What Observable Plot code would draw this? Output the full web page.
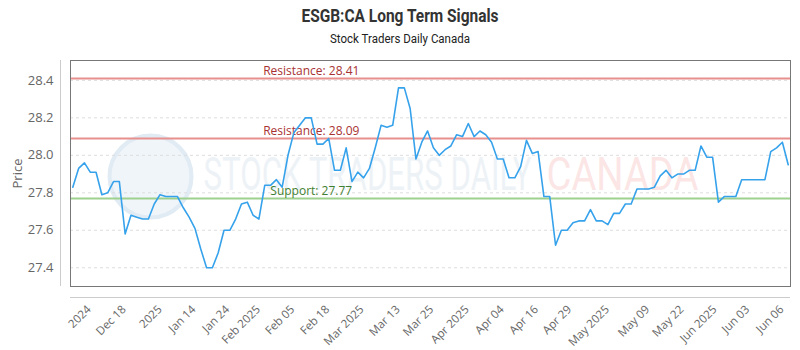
<!DOCTYPE html>
<html>
<head>
<meta charset="utf-8">
<script src="https://cdn.jsdelivr.net/npm/d3@7"></script>
<script src="https://cdn.jsdelivr.net/npm/@observablehq/plot@0.6"></script>
<style>
  html, body { margin: 0; padding: 0; background: #fff; }
  #wrap { position: relative; width: 800px; height: 350px; overflow: hidden; }
  #title { position: absolute; left: 0; width: 800px; top: 5px; text-align: center;
    font-family: Roboto, sans-serif; font-weight: bold; font-size: 18px; color: #333;
    transform: scaleX(0.86); transform-origin: 400px 0; }
  #subtitle { position: absolute; left: 0; width: 800px; top: 31px; text-align: center;
    font-family: Roboto, sans-serif; font-size: 12.5px; color: #222;
    transform: scaleX(0.92); transform-origin: 400px 0; }
</style>
</head>
<body>
<div id="wrap">
  <div id="title">ESGB:CA Long Term Signals</div>
  <div id="subtitle">Stock Traders Daily Canada</div>
  <div id="chart"></div>
</div>
<script>
const prices = [
  27.83, 27.93, 27.96, 27.91, 27.91, 27.79, 27.80, 27.86, 27.86, 27.58,
  27.68, 27.67, 27.66, 27.66, 27.74, 27.79, 27.78, 27.78, 27.78, 27.72,
  27.67, 27.61, 27.50, 27.40, 27.40, 27.48, 27.60, 27.60, 27.66, 27.74,
  27.75, 27.68, 27.66, 27.84, 27.84, 27.87, 27.83, 28.00, 28.12, 28.16,
  28.20, 28.20, 28.06, 28.06, 28.09, 27.92, 27.92, 28.04, 27.86, 27.91,
  27.88, 27.93, 28.04, 28.16, 28.15, 28.16, 28.36, 28.36, 28.25, 27.98,
  28.07, 28.13, 28.04, 28.00, 28.03, 28.05, 28.11, 28.10, 28.17, 28.10,
  28.13, 28.11, 28.07, 27.98, 27.98, 27.88, 27.88, 27.94, 28.08, 28.01,
  28.02, 27.78, 27.78, 27.52, 27.60, 27.60, 27.64, 27.65, 27.65, 27.71,
  27.65, 27.65, 27.63, 27.69, 27.69, 27.74, 27.74, 27.82, 27.82, 27.82,
  27.83, 27.89, 27.92, 27.88, 27.90, 27.90, 27.92, 27.92, 28.05, 27.99,
  27.99, 27.75, 27.78, 27.78, 27.78, 27.87, 27.87, 27.87, 27.87, 27.87,
  28.02, 28.04, 28.07, 27.95
];
// tick positions in point-index units (the axis spaces trading days evenly)
const tickIndex = [2.8, 8.8, 15.0, 20.8, 26.6, 31.9, 37.8, 43.8, 49.7, 55.9, 61.7, 67.8,
  73.8, 79.7, 85.4, 91.9, 98.8, 104.7, 110.4, 116.0, 121.9];
const tickLabels = ["2024", "Dec 18", "2025", "Jan 14", "Jan 24", "Feb 2025", "Feb 05", "Feb 18",
  "Mar 2025", "Mar 13", "Mar 25", "Apr 2025", "Apr 04", "Apr 16", "Apr 29", "May 2025",
  "May 09", "May 22", "Jun 2025", "Jun 03", "Jun 06"];
const yTicks = [27.4, 27.6, 27.8, 28.0, 28.2, 28.4];
const levelNames = ["Resistance", "Resistance", "Support"];
const levelValues = [28.41, 28.09, 27.77];
const levelKinds = ["res", "res", "sup"];

const series = prices.map((p, i) => ({i, p}));
const levels = levelValues.map((v, k) => ({v, kind: levelKinds[k], label: `${levelNames[k]}: ${v.toFixed(2)}`}));
const labelMap = new Map(tickIndex.map((t, k) => [t, tickLabels[k]]));
const labelPos = 41;

const font = "'Open Sans', 'Noto Sans', sans-serif";

const plot = Plot.plot({
  width: 800,
  height: 350,
  marginTop: 60,
  marginBottom: 64,
  marginLeft: 70,
  marginRight: 10,
  insetLeft: 2.3,
  insetRight: 2.3,
  style: {fontFamily: font, background: "transparent"},
  x: {type: "linear", domain: [0, prices.length - 1]},
  y: {domain: [27.3, 28.506]},
  marks: [
    // watermark
    Plot.dot([0], {frameAnchor: "middle", dx: -280, dy: 3, r: 41, fill: "#d3e3f0", fillOpacity: 0.35, stroke: "#e0ebf4", strokeWidth: 4}),
    Plot.text(["STOCK TRADERS DAILY"], {frameAnchor: "middle", dx: -63, dy: 2, text: d => d, fontSize: 46, fill: "#dbe6ef", fillOpacity: 0.5, fontFamily: "Roboto, sans-serif", className: "wm1"}),
    Plot.text(["CANADA"], {frameAnchor: "middle", dx: 192, dy: 2, text: d => d, fontSize: 46, fill: "#f7cccc", fillOpacity: 0.5, fontFamily: "Roboto, sans-serif", className: "wm2"}),
    Plot.gridY(yTicks, {stroke: "#dddddd", strokeOpacity: 1, strokeDasharray: "3,3"}),
    Plot.ruleY(levels, {y: "v", stroke: d => d.kind === "res" ? "#e8908e" : "#9ed08e", strokeWidth: 2}),
    Plot.text(levels, {x: () => labelPos, y: "v", text: "label", lineAnchor: "bottom", dy: -3,
      fill: d => d.kind === "res" ? "#a83232" : "#3f7f30", fontSize: 12}),
    Plot.line(series, {x: "i", y: "p", stroke: "#36a2eb", strokeWidth: 1.6}),
    Plot.frame({stroke: "#777", strokeOpacity: 1}),
    Plot.ruleX([0], {y1: 27.3, y2: 28.506, dx: -12.3, stroke: "#cccccc"}),
    Plot.ruleY([27.3], {dy: 11, stroke: "#cccccc"}),
    Plot.axisY(yTicks, {tickSize: 0, tickPadding: 17, fontSize: 13, fill: "#666", tickFormat: d => d.toFixed(1),
      label: "Price", labelAnchor: "center", labelArrow: "none", labelOffset: 58}),
    Plot.axisX(tickIndex, {tickSize: 0, tickPadding: 21, tickRotate: -45, fontSize: 11.5, fill: "#666",
      tickFormat: d => labelMap.get(d), label: null})
  ]
});
document.getElementById("chart").appendChild(plot);
d3.select(plot).select(".wm1 text").attr("textLength", 328).attr("lengthAdjust", "spacingAndGlyphs");
d3.select(plot).select(".wm2 text").attr("textLength", 152).attr("lengthAdjust", "spacingAndGlyphs");
</script>
</body>
</html>
